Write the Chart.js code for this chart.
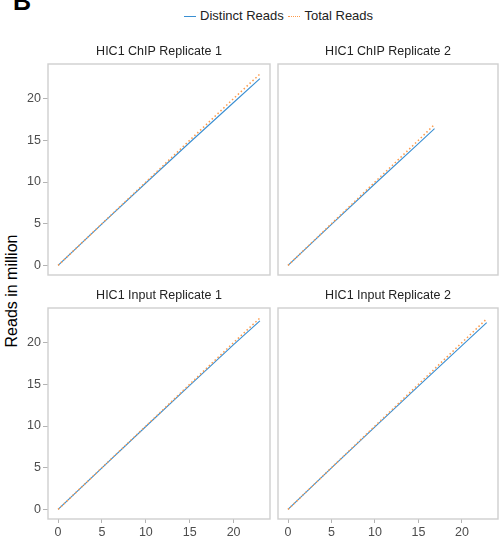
<!DOCTYPE html>
<html>
<head>
<meta charset="utf-8">
<script src="https://cdn.jsdelivr.net/npm/chart.js@4/dist/chart.umd.min.js"></script>
<style>
  html, body { margin: 0; padding: 0; background: #fff; overflow: hidden; }
  body { width: 499px; height: 542px; position: relative; font-family: "Liberation Sans", Arial, sans-serif; }
  canvas { position: absolute; }
  .txt { position: absolute; white-space: nowrap; }
</style>
</head>
<body>
<div class="txt" style="left:13px;top:-11px;font-size:25px;line-height:25px;font-weight:bold;color:#000;">B</div>

<div class="txt" style="left:184px;top:8px;height:16px;line-height:16px;font-size:13px;color:#222;">
  <span style="display:inline-block;width:12px;height:0;border-top:1.5px solid #3a8fd2;vertical-align:middle;margin-right:4px;"></span>Distinct Reads
  <span style="display:inline-block;width:12px;height:0;border-top:1.5px dotted #fd9a4a;vertical-align:middle;margin-left:1px;margin-right:4px;"></span>Total Reads
</div>

<div class="txt" style="left:12px;top:291px;font-size:16px;color:#000;transform:translate(-50%,-50%) rotate(-90deg);">Reads in million</div>

<canvas id="c1" width="272" height="241" style="left:0px;top:36px;width:272px;height:241px;"></canvas>
<canvas id="c2" width="223" height="241" style="left:276px;top:36px;width:223px;height:241px;"></canvas>
<canvas id="c3" width="272" height="261" style="left:0px;top:280px;width:272px;height:261px;"></canvas>
<canvas id="c4" width="223" height="261" style="left:276px;top:280px;width:223px;height:261px;"></canvas>

<script>
// ---- data (millions of reads) ----
const panelTitles = ["HIC1 ChIP Replicate 1", "HIC1 ChIP Replicate 2", "HIC1 Input Replicate 1", "HIC1 Input Replicate 2"];
const seriesNames = ["Distinct Reads", "Total Reads"];

const depthChip1    = [0, 5, 10, 15, 20, 23.0];
const distinctChip1 = [0, 4.97, 9.88, 14.74, 19.53, 22.4];
const totalChip1    = [0, 5, 10, 15, 20, 22.95];

const depthChip2    = [0, 5, 10, 15, 16.85];
const distinctChip2 = [0, 4.93, 9.79, 14.6, 16.4];
const totalChip2    = [0, 5, 10, 15, 16.9];

const depthInput1    = [0, 5, 10, 15, 20, 23.0];
const distinctInput1 = [0, 4.99, 9.94, 14.87, 19.77, 22.6];
const totalInput1    = [0, 5, 10, 15, 20, 22.95];

const depthInput2    = [0, 5, 10, 15, 20, 22.85];
const distinctInput2 = [0, 4.98, 9.9, 14.78, 19.63, 22.4];
const totalInput2    = [0, 5, 10, 15, 20, 22.85];

const tickValues = [0, 5, 10, 15, 20];
const axisMin = -1.15, axisMax = 24.15;

// ---- styling ----
const BLUE = '#3a8fd2';
const ORANGE = '#fd9a4a';
const TICK_COLOR = '#4d4d4d';
const BORDER_COLOR = '#cfcfcf';
const FONT_FAMILY = '"Liberation Sans", Arial, sans-serif';

function pts(xs, ys) { return xs.map((x, i) => ({ x: x, y: ys[i] })); }

const panelPlugin = {
  id: 'panel',
  afterDraw(chart, args, opts) {
    const a = chart.chartArea, ctx = chart.ctx;
    ctx.save();
    ctx.strokeStyle = BORDER_COLOR;
    ctx.lineWidth = 1.4;
    ctx.strokeRect(a.left, a.top, a.right - a.left, a.bottom - a.top);
    ctx.fillStyle = '#222';
    ctx.font = '12.5px ' + FONT_FAMILY;
    ctx.textAlign = 'center';
    ctx.textBaseline = 'middle';
    ctx.fillText(opts.title, (a.left + a.right) / 2, a.top - 12);
    ctx.restore();
  }
};

function makeChart(id, title, depth, distinct, total, showY, showX, pad) {
  new Chart(document.getElementById(id), {
    type: 'line',
    data: {
      datasets: [
        { label: seriesNames[0], data: pts(depth, distinct), borderColor: BLUE, borderWidth: 1.1,
          pointRadius: 0, tension: 0, fill: false, order: 1 },
        { label: seriesNames[1], data: pts(depth, total), borderColor: ORANGE, borderWidth: 1.5,
          borderDash: [1.5, 2.5], pointRadius: 0, tension: 0, fill: false, order: 0 }
      ]
    },
    options: {
      responsive: false,
      animation: false,
      layout: { padding: pad },
      plugins: { legend: { display: false }, tooltip: { enabled: false }, title: { display: false },
                 panel: { title: title } },
      scales: {
        x: {
          type: 'linear', min: axisMin, max: axisMax, display: showX,
          afterBuildTicks: s => { s.ticks = tickValues.map(v => ({ value: v })); },
          afterFit: s => { s.height = showX ? 22 : 0; s.paddingLeft = 0; s.paddingRight = 0; },
          grid: { drawOnChartArea: false, drawTicks: true, tickLength: 4, color: '#b3b3b3' },
          border: { display: false },
          ticks: { color: TICK_COLOR, padding: 2, maxRotation: 0, font: { size: 12.5, family: FONT_FAMILY } }
        },
        y: {
          type: 'linear', min: axisMin, max: axisMax, display: showY,
          afterBuildTicks: s => { s.ticks = tickValues.map(v => ({ value: v })); },
          afterFit: s => { s.width = showY ? 48 : 0; s.paddingTop = 0; s.paddingBottom = 0; },
          grid: { drawOnChartArea: false, drawTicks: true, tickLength: 5, color: '#b3b3b3' },
          border: { display: false },
          ticks: { color: TICK_COLOR, padding: 2, font: { size: 12.5, family: FONT_FAMILY } }
        }
      }
    },
    plugins: [panelPlugin]
  });
}

makeChart('c1', panelTitles[0], depthChip1, distinctChip1, totalChip1, true, false, { top: 28, bottom: 2, left: 0, right: 2 });
makeChart('c2', panelTitles[1], depthChip2, distinctChip2, totalChip2, false, false, { top: 28, bottom: 2, left: 2, right: 1 });
makeChart('c3', panelTitles[2], depthInput1, distinctInput1, totalInput1, true, true, { top: 28, bottom: 0, left: 0, right: 2 });
makeChart('c4', panelTitles[3], depthInput2, distinctInput2, totalInput2, false, true, { top: 28, bottom: 0, left: 2, right: 1 });
</script>
</body>
</html>
